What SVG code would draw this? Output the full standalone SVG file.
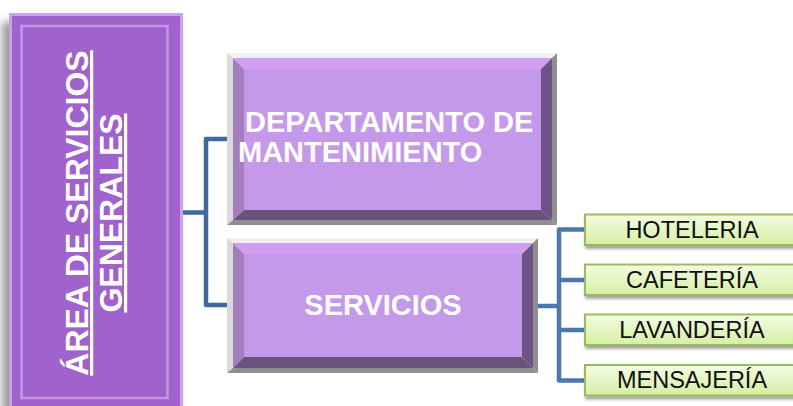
<svg xmlns="http://www.w3.org/2000/svg" width="793" height="406" viewBox="0 0 793 406">
<defs>
<style>
.wt{font-family:"Liberation Sans",Arial,sans-serif;font-weight:bold;fill:#ffffff}
.gt{font-family:"Liberation Sans",Arial,sans-serif;font-size:23.5px;fill:#111111;text-anchor:middle}
.c1{fill:none;stroke:#41699b;stroke-width:4.5;stroke-linejoin:round}
.c2{fill:none;stroke:#4a77ac;stroke-width:4.5;stroke-linejoin:round}
.gb{fill:url(#gg);stroke:#9bbb59;stroke-width:2;filter:url(#ds)}
.bt{fill:#d29ef3}.bl{fill:#a47dbd}.br{fill:#6f5386}.bb{fill:#68547b}.bf{fill:#c599ea}
.sl{fill:#dadada}.sd{fill:#8f8f8f}.st{fill:#f0f0f0}
</style>
<linearGradient id="gg" x1="0" y1="0" x2="0" y2="1">
<stop offset="0" stop-color="#f3fce3"/>
<stop offset="1" stop-color="#d5efa3"/>
</linearGradient>
<filter id="ds" x="-10%" y="-30%" width="120%" height="180%">
<feDropShadow dx="1" dy="3" stdDeviation="1.5" flood-color="#000" flood-opacity="0.35"/>
</filter>
<filter id="blur" x="-20%" y="-20%" width="140%" height="140%">
<feGaussianBlur stdDeviation="4"/>
</filter>
</defs>

<g id="area">
<rect x="2" y="22" width="176" height="400" fill="#9a9a9a" filter="url(#blur)"/>
<rect x="10.5" y="14.5" width="171" height="400" fill="#a062cc" stroke="#c9a2ea" stroke-width="3"/>
<rect x="21.5" y="26" width="146" height="372" fill="none" stroke="#c497e3" stroke-width="2.5"/>
<g transform="translate(0,213) rotate(-90)" class="wt" font-size="32" text-anchor="middle">
<text x="0" y="88" text-decoration="underline">ÁREA DE SERVICIOS</text>
<text x="0" y="122" text-decoration="underline">GENERALES</text>
</g>
</g>

<g id="connectors">
<path class="c1" d="M183,212.5 H206"/>
<path class="c1" d="M228,139 H206 V305 H228"/>
<path class="c2" d="M537,306 H559"/>
<path class="c2" d="M585,229.5 H559 V380.5 H585"/>
<path class="c2" d="M559,280 H585"/>
<path class="c2" d="M559,330 H585"/>
</g>

<g id="mantenimiento">
<polygon class="st" points="227,53 557,53 552,58 233,58"/>
<polygon class="sl" points="227,53 233,58 233,220 227,225"/>
<polygon class="sd" points="557,53 557,225 552,220 552,58"/>
<polygon class="sd" points="227,225 233,220 552,220 557,225"/>
<polygon class="bt" points="233,58 552,58 541,69 244,69"/>
<polygon class="bl" points="233,58 244,69 244,210 233,220"/>
<polygon class="br" points="552,58 552,220 541,210 541,69"/>
<polygon class="bb" points="233,220 244,210 541,210 552,220"/>
<rect class="bf" x="244" y="69" width="297" height="141"/>
<text class="wt" font-size="29" x="245" y="132">DEPARTAMENTO DE</text>
<text class="wt" font-size="29" x="238" y="162">MANTENIMIENTO</text>
</g>

<g id="servicios">
<polygon class="st" points="227,238 538,238 533,243 233,243"/>
<polygon class="sl" points="227,238 233,243 233,368 227,373"/>
<polygon class="sd" points="538,238 538,373 533,368 533,243"/>
<polygon class="sd" points="227,373 233,368 533,368 538,373"/>
<polygon class="bt" points="233,243 533,243 522,254 244,254"/>
<polygon class="bl" points="233,243 244,254 244,357 233,368"/>
<polygon class="br" points="533,243 533,368 522,357 522,254"/>
<polygon class="bb" points="233,368 244,357 522,357 533,368"/>
<rect class="bf" x="244" y="254" width="278" height="103"/>
<text class="wt" font-size="29" x="383" y="315" text-anchor="middle">SERVICIOS</text>
</g>

<g id="hoteleria">
<rect class="gb" x="585" y="214.5" width="216" height="30.5"/>
<text class="gt" x="692" y="238.3">HOTELERIA</text>
</g>
<g id="cafeteria">
<rect class="gb" x="585" y="264.5" width="216" height="30.5"/>
<text class="gt" x="692" y="287.7">CAFETERÍA</text>
</g>
<g id="lavanderia">
<rect class="gb" x="585" y="314.5" width="216" height="30.5"/>
<text class="gt" x="692" y="338.3">LAVANDERÍA</text>
</g>
<g id="mensajeria">
<rect class="gb" x="585" y="365" width="216" height="30.5"/>
<text class="gt" x="692" y="388.3">MENSAJERÍA</text>
</g>
</svg>
